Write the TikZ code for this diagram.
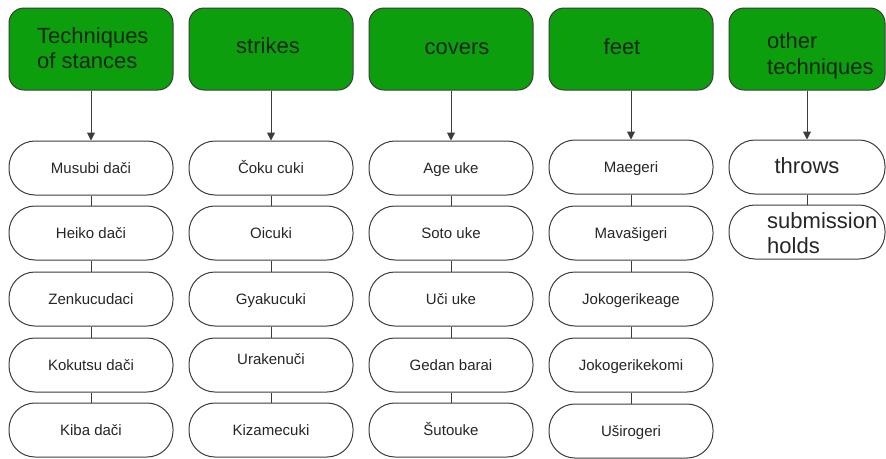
\documentclass[tikz,border=0pt]{standalone}
\usepackage{fontspec}
\setmainfont{Liberation Sans}
\usetikzlibrary{arrows.meta,positioning,calc}
\definecolor{headgreen}{RGB}{12,158,12}
\definecolor{headtxt}{RGB}{20,40,20}
\definecolor{edge}{RGB}{60,60,60}
\tikzset{
  head/.style={draw=edge, line width=1pt, fill=headgreen, rounded corners=15pt,
    minimum width=164pt, minimum height=82pt, inner sep=0pt},
  headtext/.style={text=headtxt, inner sep=0pt, align=left,
    font=\fontsize{22}{25}\selectfont},
  pill/.style={draw=edge, line width=1pt, fill=white, rounded corners=26pt,
    minimum width=164pt, minimum height=54pt, inner sep=0pt,
    font=\fontsize{15}{18}\selectfont, text=black!85, text height=11pt, text depth=0pt},
  bigpill/.style={pill, font=\fontsize{22}{25}\selectfont, text height=16pt, text depth=3pt},
  link/.style={draw=edge, line width=1pt},
  feed/.style={link, -{Triangle[length=8pt,width=8pt]}}
}
\begin{document}
\begin{tikzpicture}[x=1pt,y=-1pt]
\useasboundingbox (0,0) rectangle (886,458);
\fill[white] (0,0) rectangle (886,458);

% category headers
\node[head] (h1) at (91,49) {};
\node[head] (h2) at (271,49) {};
\node[head] (h3) at (451,49) {};
\node[head] (h4) at (631,49) {};
\node[head, minimum width=156pt] (h5) at (807,49) {};

\node[headtext, anchor=base west] (t1) at (37,43) {Techniques};
\node[headtext, anchor=base west] (t1b) at (37,68) {of stances};
\node[headtext, anchor=base] (t2) at (268,53) {strikes};
\node[headtext, anchor=base] (t3) at (457,54) {covers};
\node[headtext, anchor=base] (t4) at (622,54) {feet};
\node[headtext, anchor=base west] (t5) at (767,48) {other};
\node[headtext, anchor=base west] (t5b) at (767,74) {techniques};

% stances
\node[pill] (a1) at (91,168) {Musubi dači};
\node[pill] (a2) at (91,233) {Heiko dači};
\node[pill] (a3) at (91,299) {Zenkucudaci};
\node[pill] (a4) at (91,365) {Kokutsu dači};
\node[pill] (a5) at (91,430) {Kiba dači};

% strikes
\node[pill] (b1) at (271,168) {Čoku cuki};
\node[pill] (b2) at (271,233) {Oicuki};
\node[pill] (b3) at (271,299) {Gyakucuki};
\node[pill, text depth=12pt] (b4) at (271,365) {Urakenuči};
\node[pill] (b5) at (271,430) {Kizamecuki};

% covers
\node[pill] (c1) at (451,168) {Age uke};
\node[pill] (c2) at (451,233) {Soto uke};
\node[pill] (c3) at (451,299) {Uči uke};
\node[pill] (c4) at (451,365) {Gedan barai};
\node[pill] (c5) at (451,430) {Šutouke};

% feet
\node[pill] (d1) at (631,167) {Maegeri};
\node[pill] (d2) at (631,233) {Mavašigeri};
\node[pill] (d3) at (631,299) {Jokogerikeage};
\node[pill] (d4) at (631,365) {Jokogerikekomi};
\node[pill] (d5) at (631,431) {Uširogeri};

% other techniques
\node[bigpill, minimum width=156pt] (e1) at (807,167) {throws};
\node[pill, minimum width=156pt] (e2) at (807,232) {};
\node[headtext, text=black!85, anchor=base west] (e2a) at (767,228) {submission};
\node[headtext, text=black!85, anchor=base west] (e2b) at (767,253) {holds};

% arrows from headers
\foreach \h/\p in {h1/a1,h2/b1,h3/c1,h4/d1,h5/e1}
  \draw[feed] (\h.south) -- (\p.north);

% chains within each column
\foreach \col in {a,b,c,d}
  \foreach \i/\j in {1/2,2/3,3/4,4/5}
    \draw[link] (\col\i.south) -- (\col\j.north);
\draw[link] (e1.south) -- (e2.north);
\end{tikzpicture}
\end{document}
